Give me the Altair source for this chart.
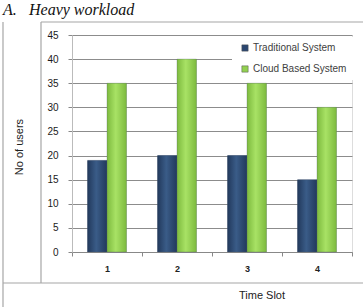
import altair as alt
import pandas as pd

slots = ["1", "2", "3", "4"]
series = ["Traditional System", "Cloud Based System"]
traditional = [19, 20, 20, 15]
cloud = [35, 40, 35, 30]
y_ticks = [0, 5, 10, 15, 20, 25, 30, 35, 40, 45]
colors = ["#2B4670", "#92D050"]
gradients = [
    ["#22395C", "#3A5C88", "#22395C"],
    ["#7DBA3E", "#A8E265", "#7DBA3E"],
]

rows = []
for i, s in enumerate(slots):
    rows.append({"slot": s, "series": series[0], "users": traditional[i]})
    rows.append({"slot": s, "series": series[1], "users": cloud[i]})
df = pd.DataFrame(rows)

W, H = 280, 217
one = pd.DataFrame({"a": [0]})

x_enc = alt.X("slot:N", sort=slots, title=None,
              scale=alt.Scale(paddingInner=0, paddingOuter=0),
              axis=alt.Axis(labelAngle=0, labelFont="Liberation Sans", labelFontSize=9,
                            labelFontWeight="bold", labelColor="#222222", labelPadding=8,
                            tickBand="extent", tickSize=4, tickColor="#888888",
                            domainColor="#888888", grid=False))
xo_enc = alt.XOffset("series:N", sort=series,
                     scale=alt.Scale(domain=series, paddingInner=0, paddingOuter=0.8))
y_enc = alt.Y("users:Q", title=None,
              scale=alt.Scale(domain=[0, 45], nice=False),
              axis=alt.Axis(values=y_ticks, labelFont="Liberation Sans", labelFontSize=10,
                            labelColor="#1a1a1a", labelPadding=10, tickSize=4,
                            tickColor="#888888", domainColor="#BBBBBB",
                            grid=True, gridColor="#8C8C8C", gridWidth=1))

bars = alt.Chart(df).mark_bar().encode(
    x=x_enc, xOffset=xo_enc, y=y_enc,
    color=alt.Color("series:N", sort=series,
                    scale=alt.Scale(domain=series, range=colors),
                    legend=alt.Legend(title=None, orient="none", legendX=160, legendY=2,
                                      fillColor="white", padding=6,
                                      labelFont="Liberation Sans", labelFontSize=10,
                                      labelColor="#404040", symbolType="square",
                                      symbolSize=40, symbolStrokeWidth=0.5,
                                      symbolStrokeColor="#555555",
                                      rowPadding=11, labelOffset=3,
                                      symbolOffset=2)),
)

shades = []
for s, g in zip(series, gradients):
    grad = alt.LinearGradient(
        gradient="linear", x1=0, x2=1, y1=0, y2=0,
        stops=[alt.GradientStop(color=g[0], offset=0),
               alt.GradientStop(color=g[1], offset=0.45),
               alt.GradientStop(color=g[2], offset=1)])
    shades.append(
        alt.Chart(df).transform_filter(alt.datum.series == s)
        .mark_bar(fill=grad, stroke="#4a5a6a", strokeWidth=0.3)
        .encode(x=x_enc, xOffset=xo_enc, y=y_enc)
    )

def rule(x1, x2, y1, y2, color="#A6A6A6", w=1.2):
    return alt.Chart(one).mark_rule(color=color, strokeWidth=w).encode(
        x=alt.value(x1), x2=alt.value(x2), y=alt.value(y1), y2=alt.value(y2))

frame = [
    rule(-69, -69, -13, 272),
    rule(-31, -31, -13, 248),
    rule(-31, 291, -13, -13),
    rule(-69, 291, 248, 248),
]

def text(t, x, y, **kw):
    return alt.Chart(one).mark_text(**kw).encode(
        x=alt.value(x), y=alt.value(y), text=alt.value(t))

texts = [
    text("A.", -69, -20, font="Liberation Serif", fontStyle="italic", fontSize=16,
         align="left", baseline="alphabetic", color="#111111"),
    text("Heavy workload", -43, -20, font="Liberation Serif", fontStyle="italic",
         fontSize=16, align="left", baseline="alphabetic", color="#111111"),
    text("No of users", -52, 112, font="Liberation Sans", fontSize=11, angle=270,
         align="center", baseline="middle", color="#222222"),
    text("Time Slot", 190, 261, font="Liberation Sans", fontSize=11,
         align="center", baseline="middle", color="#222222"),
]

chart = alt.layer(bars, *shades, *frame, *texts).properties(
    width=W, height=H,
    autosize=alt.AutoSizeParams(type="none"),
    padding={"left": 72, "top": 35, "right": 11, "bottom": 55},
).configure_view(stroke=None).configure(background="white")

chart.save("out.html", embed_options={"renderer": "svg", "actions": False})
